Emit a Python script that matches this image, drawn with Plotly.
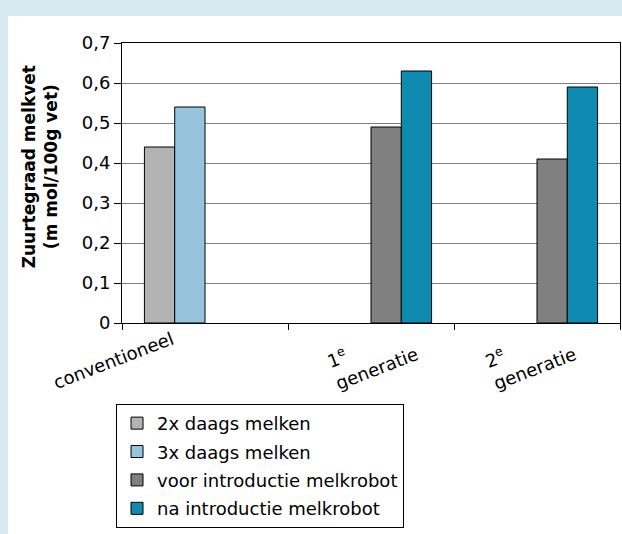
import plotly.graph_objects as go

categories = ["conventioneel", "1e generatie", "2e generatie"]
category_labels = ["conventioneel", "1<sup>e</sup><br>generatie", "2<sup>e</sup><br>generatie"]
series_names = ["2x daags melken", "3x daags melken", "voor introductie melkrobot", "na introductie melkrobot"]
s_2x = [0.44, None, None]
s_3x = [0.54, None, None]
s_voor = [None, 0.49, 0.41]
s_na = [None, 0.63, 0.59]
colors = ["#b3b3b3", "#96c4dc", "#808080", "#0f8ab0"]
y_ticks = [0, 0.1, 0.2, 0.3, 0.4, 0.5, 0.6, 0.7]
y_title = "<b>Zuurtegraad melkvet<br>(m mol/100g vet)</b>"

FONT = "DejaVu Sans, Verdana, sans-serif"

fig = go.Figure()
for i, (name, vals, col) in enumerate(zip(series_names, [s_2x, s_3x, s_voor, s_na], colors)):
    fig.add_trace(go.Bar(x=categories, y=vals, name=name, legendgroup=f"g{i}",
                         marker=dict(color=col, line=dict(color="black", width=1))))

label_xshift = [-92, 1, -7]
label_yshift = [-4, 0, 0]
annotations = [
    dict(x=c, xref="x", y=-0.12, yref="paper", text=t, showarrow=False, textangle=-21,
         align="left", xanchor="center", yanchor="middle", xshift=sx, yshift=sy,
         font=dict(family=FONT, size=18, color="black"))
    for c, t, sx, sy in zip(categories, category_labels, label_xshift, label_yshift)
]
annotations.append(dict(x=-0.163, xref="paper", y=0.559, yref="paper", text=y_title, showarrow=False,
                        textangle=-90, xanchor="center", yanchor="middle",
                        font=dict(family=FONT, size=17, color="black")))

fig.update_layout(
    width=622, height=534,
    barmode="group", bargap=0.27, bargroupgap=0,
    paper_bgcolor="#d8e8f0", plot_bgcolor="white",
    separators=",.",
    font=dict(family=FONT, size=18, color="black"),
    margin=dict(l=122, r=2, t=43, b=211),
    showlegend=True,
    legend=dict(x=-0.012, y=-0.289, xanchor="left", yanchor="top", bgcolor="white",
                bordercolor="black", borderwidth=1, font=dict(size=18), tracegroupgap=2),
    annotations=annotations,
    shapes=[dict(type="rect", xref="paper", yref="paper", x0=-0.229, x1=1.05, y0=-0.9, y1=1.096,
                 fillcolor="white", line=dict(width=0), layer="below")],
)
fig.update_xaxes(type="category", range=[-0.5, 2.5], showline=True, linecolor="black", linewidth=1,
                 mirror=True, ticks="outside", tickson="boundaries", ticklen=6, tickcolor="black",
                 showticklabels=False, showgrid=False)
fig.update_yaxes(range=[0, 0.7], tickvals=y_ticks,
                 ticktext=["0"] + [f"{v:.1f}".replace(".", ",") for v in y_ticks[1:]],
                 showline=True, linecolor="black", linewidth=1, mirror=True, ticks="outside",
                 ticklen=7, tickcolor="black", showgrid=True, gridcolor="#808080", gridwidth=1,
                 zeroline=False)
fig.write_html("out.html", config={"displayModeBar": False},
               post_script="document.body.style.margin='0';")
